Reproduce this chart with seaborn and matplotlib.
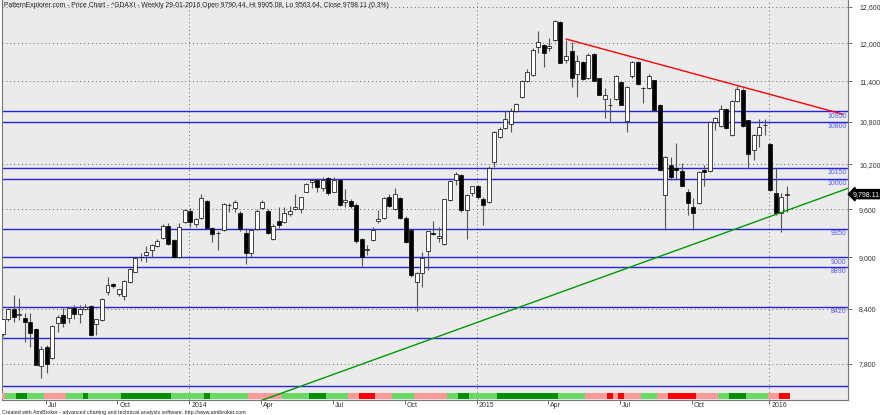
import numpy as np
import pandas as pd
import matplotlib
matplotlib.use("Agg")
import matplotlib.pyplot as plt
import matplotlib.transforms as mtrans
from matplotlib.ticker import NullLocator, FixedLocator
import seaborn as sns

# weekly ^GDAXI bars, 10-05-2013 .. 29-01-2016 (one row per week)
opens = [8122, 8279, 8400, 8330, 8300, 8250, 8175, 7780, 7980, 7860,
         8240, 8330, 8300, 8410, 8340, 8400, 8430, 8230, 8273, 8590,
         8680, 8565, 8550, 8710, 8830, 9000, 9030, 9090, 9140, 9240,
         9390, 9210, 9000, 9440, 9580, 9410, 9490, 9710, 9360, 9300,
         9340, 9660, 9620, 9555, 9300, 9050, 9350, 9620, 9580, 9230,
         9450, 9440, 9540, 9600, 9600, 9830, 9960, 9985, 9880, 10010,
         9830, 9985, 9695, 9710, 9660, 9225, 9090, 9210, 9450, 9490,
         9760, 9600, 9745, 9490, 9340, 8710, 8810, 9080, 9300, 9235,
         9165, 9720, 9985, 10055, 9590, 9815, 9900, 9730, 9695, 10230,
         10580, 10710, 10770, 10950, 11170, 11410, 11500, 11940, 11980, 11930,
         12053, 12350, 11735, 11870, 11520, 11700, 11450, 11830, 11450, 11135,
         11045, 11135, 11390, 10810, 11490, 11700, 11300, 11300, 11423, 11045,
         9790, 10190, 10150, 10110, 9826, 9630, 9685, 10120, 10110, 10800,
         10740, 10985, 10615, 11105, 11270, 10825, 10397, 10615, 10755, 10480,
         9815, 9555, 9790]
highs = [8290, 8410, 8557, 8520, 8350, 8350, 8180, 7990, 8000, 8220,
         8330, 8410, 8420, 8440, 8440, 8450, 8440, 8290, 8520, 8770,
         8700, 8630, 8730, 8870, 9000, 9050, 9140, 9160, 9230, 9410,
         9420, 9230, 9420, 9600, 9620, 9490, 9795, 9720, 9380, 9320,
         9680, 9680, 9720, 9580, 9360, 9350, 9600, 9720, 9600, 9410,
         9630, 9630, 9640, 9800, 9760, 9950, 10000, 10010, 10020, 10030,
         10030, 10000, 9865, 9730, 9680, 9240, 9150, 9380, 9590, 9760,
         9800, 9880, 9760, 9510, 9350, 8830, 9060, 9330, 9450, 9370,
         9740, 9990, 10090, 10070, 9800, 9910, 9920, 9760, 10170, 10670,
         10720, 10960, 11000, 11080, 11420, 11590, 11920, 12200, 11990, 12080,
         12390, 12360, 12050, 12020, 11810, 11720, 11850, 11850, 11460, 11300,
         11150, 11500, 11400, 11330, 11720, 11720, 11320, 11510, 11430, 11060,
         10310, 10300, 10495, 10220, 9860, 9745, 10110, 10190, 10800, 10870,
         11045, 11000, 11120, 11330, 11300, 10830, 10630, 10840, 10840, 10490,
         10150, 9815, 9905]
lows = [8100, 8260, 8250, 8270, 8030, 7980, 7790, 7655, 7700, 7850,
        8140, 8200, 8240, 8290, 8240, 8380, 8100, 8108, 8260, 8560,
        8640, 8540, 8500, 8700, 8820, 8960, 8950, 9000, 9130, 9230,
        9150, 8990, 8990, 9430, 9380, 9370, 9480, 9360, 9190, 9090,
        9330, 9560, 9560, 9330, 8920, 9000, 9340, 9600, 9290, 9210,
        9360, 9420, 9520, 9590, 9550, 9820, 9880, 9830, 9840, 9790,
        9820, 9640, 9630, 9620, 9180, 8895, 9030, 9200, 9430, 9480,
        9630, 9590, 9470, 9180, 8770, 8370, 8650, 8850, 9270, 9190,
        9150, 9710, 9920, 9560, 9225, 9780, 9740, 9400, 9680, 10160,
        10560, 10690, 10650, 10940, 11150, 11390, 11480, 11840, 11630, 11870,
        12040, 11680, 11690, 11315, 11165, 11430, 11440, 11400, 11190, 10860,
        10810, 11120, 11040, 10650, 11460, 11340, 11075, 11280, 10960, 10110,
        9337, 9980, 9987, 9900, 9530, 9337, 9670, 9905, 10090, 10680,
        10720, 10690, 10600, 11090, 10720, 10150, 10260, 10440, 10615, 9840,
        9530, 9315, 9563]
closes = [8279, 8398, 8305, 8340, 8250, 8130, 7790, 7960, 7800, 8205,
          8310, 8240, 8410, 8340, 8400, 8420, 8104, 8285, 8510, 8670,
          8655, 8620, 8720, 8860, 8995, 9010, 9060, 9150, 9200, 9390,
          9160, 9000, 9380, 9590, 9440, 9475, 9745, 9360, 9290, 9300,
          9670, 9656, 9695, 9350, 9050, 9340, 9580, 9695, 9300, 9390,
          9400, 9555, 9580, 9630, 9760, 9930, 9985, 9895, 9985, 9815,
          9985, 9660, 9720, 9645, 9200, 9000, 9100, 9340, 9475, 9745,
          9645, 9800, 9490, 9190, 8790, 8810, 8990, 9325, 9285, 9260,
          9730, 9975, 10070, 9590, 9790, 9900, 9760, 9660, 10150, 10650,
          10695, 10840, 10950, 11060, 11400, 11545, 11890, 12020, 11840, 11960,
          12365, 11690, 11795, 11450, 11720, 11440, 11810, 11410, 11200, 11200,
          11045, 11480, 11045, 11315, 11700, 11360, 11300, 11490, 10971, 10122,
          10300, 10025, 10122, 9910, 9685, 9555, 10095, 10095, 10790, 10860,
          10985, 10710, 11105, 11285, 10740, 10340, 10615, 10725, 10750, 9849,
          9555, 9765, 9798]

# bottom ribbon state per week: L light green, D dark green, P pink, R red
ribbon = list("PLLDDLLLPPPPLLLDLLLLLLDDDDDDDDDLLLLLLDLLLLLLLPPPPPPLLLLLDDDLLLLPPRRRPPP"
              "LLLLPPPPPPLLDDLLLLLDDDDDDDDDDDLLLLLPPPPRPRPPPLLLPPRRRRRPPPPLLDDDLLLLPPRR")

# support / resistance levels (labelled and unlabelled)
levels = [10950, 10800, 10150, 10000, 9350, 9000, 8890, 8420, 8080, 7570]
level_labels = ["10950", "10800", "10150", "10000", "9350", "9000", "8890", "8420", "", ""]

# trendlines as (week index, price) anchors
down_weeks, down_prices = [102, 152.1], [12070, 10910]
up_weeks, up_prices = [40, 153.05], [7290, 9875]

price_ticks = [7800, 8400, 9000, 9600, 10200, 10800, 11400, 12000, 12600]
month_pos = [8, 21, 34, 47, 60, 73, 86, 99, 112, 125, 139]
month_names = ["Jul", "Oct", "2014", "Apr", "Jul", "Oct", "2015", "Apr", "Jul", "Oct", "2016"]
year_pos = [34, 86, 139]

last_close = 9798.11
title = ("PatternExplorer.com - Price Chart - ^GDAXI - Weekly 29-01-2016 Open 9790.44, "
         "Hi 9905.08, Lo 9563.64, Close 9798.11 (0.3%)")
footer = ("Created with AmiBroker - advanced charting and technical analysis software. "
          "http://www.amibroker.com")

bars = pd.DataFrame({"open": opens, "high": highs, "low": lows, "close": closes})
bars["week"] = np.arange(len(bars))
bars["up"] = bars["close"] >= bars["open"]

ribbon_cols = {"L": "#66D966", "D": "#009000", "P": "#FF9A9A", "R": "#FF0000"}

sns.set_style("white")
plt.rcParams["font.family"] = ["Liberation Sans", "DejaVu Sans"]

fig = plt.figure(figsize=(8.8, 4.15), dpi=100)
ax = fig.add_axes([2 / 880, 15 / 415, 846 / 880, 400 / 415])
ax.set_facecolor("#EBEBEB")
ax.set_yscale("log")

# wicks then bodies
ax.vlines(bars["week"], bars["low"], bars["high"], color="#555555", lw=0.8, zorder=3)
body_lo = bars[["open", "close"]].min(axis=1)
body_h = (bars["close"] - bars["open"]).abs()
ax.bar(bars["week"], body_h, bottom=body_lo, width=0.72,
       color=np.where(bars["up"], "white", "black"), edgecolor="black", lw=0.5, zorder=4)

# levels
blend = mtrans.blended_transform_factory(ax.transAxes, ax.transData)
for lv, lab in zip(levels, level_labels):
    ax.axhline(lv, color="#2424E0", lw=1.0, zorder=2)
    if lab:
        ax.text(0.9985, lv * 0.998, lab, transform=blend, ha="right", va="top",
                fontsize=5, color="#5A5AEE", zorder=6)

# trendlines
sns.lineplot(x=down_weeks, y=down_prices, ax=ax, color="#FF0000", lw=1.0, zorder=5)
sns.lineplot(x=up_weeks, y=up_prices, ax=ax, color="#009900", lw=1.0, zorder=5)

# ribbon
ax.bar(bars["week"], 0.016, bottom=0.002, width=1.0,
       color=[ribbon_cols[c] for c in ribbon], lw=0,
       transform=ax.get_xaxis_transform(), zorder=3)

ax.set_xlim(-0.1, 153.05)
ax.set_ylim(7430, 12719)

# grid
for yp in price_ticks:
    ax.axhline(yp, color="#666666", lw=0.7, ls=(0, (1, 3)), zorder=1)
for xp in year_pos:
    ax.axvline(xp - 0.2, color="#666666", lw=0.7, ls=(0, (1, 3)), zorder=1)

# axes
ax.yaxis.tick_right()
ax.yaxis.set_major_locator(FixedLocator(price_ticks))
ax.yaxis.set_minor_locator(NullLocator())
ax.set_yticklabels([f"{p:,}" for p in price_ticks])
ax.tick_params(axis="y", length=3, width=0.6, color="#555555", pad=5,
               labelsize=5, labelcolor="#333333", right=True, direction="out")
ax.set_xticks([p - 0.2 for p in month_pos])
ax.set_xticklabels(month_names, ha="left")
ax.tick_params(axis="x", length=3, width=0.6, color="#555555", pad=-1.5,
               labelsize=5, labelcolor="#333333", bottom=True, direction="out")
offset = mtrans.ScaledTranslation(1.5 / 72, 0, fig.dpi_scale_trans)
for lab in ax.get_xticklabels():
    lab.set_transform(lab.get_transform() + offset)
ax.set_xlabel("")
ax.set_ylabel("")
for side in ["left", "bottom", "right"]:
    ax.spines[side].set_color("#777777")
    ax.spines[side].set_linewidth(0.8)
ax.spines["top"].set_visible(False)

# last price marker
ax.text(1.006, last_close, f"{last_close:,.2f}", transform=blend, ha="left", va="center",
        fontsize=5, color="white", zorder=7,
        bbox=dict(boxstyle="larrow,pad=0.15", fc="black", ec="black"))

ax.text(0.002, 0.996, title, transform=ax.transAxes, ha="left", va="top", fontsize=4.9, color="#222222")
fig.text(2 / 880, 0.5 / 415, footer, ha="left", va="bottom", fontsize=3.8, color="#222222")

fig.savefig("out.png", dpi=100, facecolor="white")
